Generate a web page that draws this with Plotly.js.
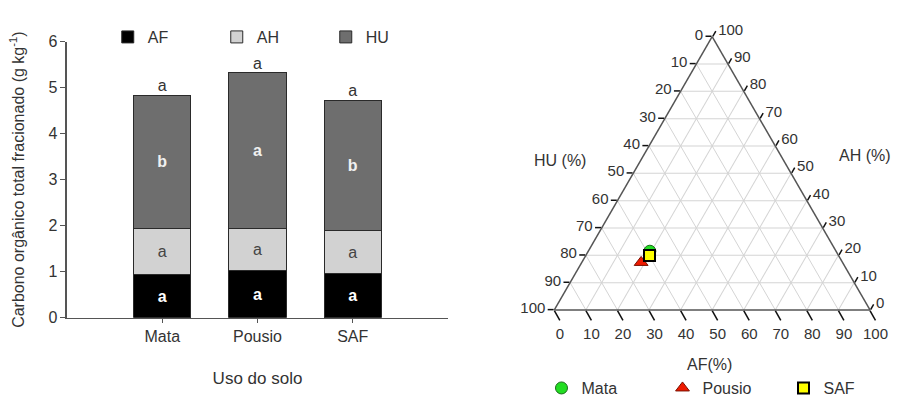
<!DOCTYPE html>
<html>
<head>
<meta charset="utf-8">
<script src="https://cdn.plot.ly/plotly-3.0.1.min.js"></script>
<style>html,body{margin:0;padding:0;background:#fff;}#chart{width:898px;height:398px;}</style>
</head>
<body>
<div id="chart"></div>
<script>
// ---- Bar chart data (g kg-1) ----
const categories = ['Mata', 'Pousio', 'SAF'];
const afValues = [0.93, 1.02, 0.965];
const ahValues = [1.01, 0.91, 0.92];
const huValues = [2.90, 3.40, 2.845];
const afLetters = ['a', 'a', 'a'];
const ahLetters = ['a', 'a', 'a'];
const huLetters = ['b', 'a', 'b'];
const totalLetters = ['a', 'a', 'a'];

// ---- Ternary data (%) ----
const ternNames = ['Mata', 'Pousio', 'SAF'];
const ternAF = [19.5, 18.8, 20.2];
const ternAH = [21.5, 17.4, 19.9];
const ternHU = [59.0, 63.8, 59.9];

// ---- Ternary tick labels ----
const ternTickVals = [0, 10, 20, 30, 40, 50, 60, 70, 80, 90, 100];
const ternTickText = ['100', '90', '80', '70', '60', '50', '40', '30', '20', '10', '0'];

const FONT = 'Liberation Sans, Arial, sans-serif';
const TXT = '#333333';

const totals = categories.map((c, i) => afValues[i] + ahValues[i] + huValues[i]);

const barLine = {color: '#2a2a2a', width: 1};
const traces = [
  {type: 'bar', name: 'AF', x: categories, y: afValues, width: 0.6,
   marker: {color: '#000000', line: barLine},
   text: afLetters, textposition: 'inside', insidetextanchor: 'middle',
   textfont: {family: FONT, size: 16, color: '#ffffff', weight: 'bold'}, legend: 'legend'},
  {type: 'bar', name: 'AH', x: categories, y: ahValues, width: 0.6,
   marker: {color: '#d2d2d2', line: barLine},
   text: ahLetters, textposition: 'inside', insidetextanchor: 'middle',
   textfont: {family: FONT, size: 16, color: '#444444'}, legend: 'legend'},
  {type: 'bar', name: 'HU', x: categories, y: huValues, width: 0.6,
   marker: {color: '#6e6e6e', line: barLine},
   text: huLetters, textposition: 'inside', insidetextanchor: 'middle',
   textfont: {family: FONT, size: 16, color: '#f0f0f0', weight: 'bold'}, legend: 'legend'},
  {type: 'scatter', mode: 'text', x: categories, y: totals, text: totalLetters,
   textposition: 'top center', textfont: {family: FONT, size: 16, color: TXT},
   showlegend: false, hoverinfo: 'skip'},
  {type: 'scatterternary', mode: 'markers', name: ternNames[0],
   a: [ternAH[0]], b: [ternHU[0]], c: [ternAF[0]],
   marker: {symbol: 'circle', size: 12, color: '#22dd22', line: {color: '#1a6a1a', width: 1}},
   legend: 'legend2'},
  {type: 'scatterternary', mode: 'markers', name: ternNames[1],
   a: [ternAH[1]], b: [ternHU[1]], c: [ternAF[1]],
   marker: {symbol: 'triangle-up', size: 12, color: '#ee1a00', line: {color: '#7a1000', width: 1}},
   legend: 'legend2'},
  {type: 'scatterternary', mode: 'markers', name: ternNames[2],
   a: [ternAH[2]], b: [ternHU[2]], c: [ternAF[2]],
   marker: {symbol: 'square', size: 11, color: '#ffff00', line: {color: '#000000', width: 2}},
   legend: 'legend2'}
];

function ternAxis(len) {
  return {
    min: 0,
    tickmode: 'array', tickvals: ternTickVals, ticktext: ternTickText,
    showgrid: true, gridcolor: '#d4d4d4', gridwidth: 1,
    showline: true, linecolor: '#555555', linewidth: 1.5,
    ticks: 'outside', ticklen: len, tickcolor: '#111111', tickwidth: 1.5,
    tickfont: {family: FONT, size: 15, color: TXT},
    title: {text: ''}
  };
}

const layout = {
  width: 898, height: 398,
  margin: {l: 0, r: 0, t: 0, b: 0, autoexpand: false},
  paper_bgcolor: '#ffffff', plot_bgcolor: '#ffffff',
  font: {family: FONT, color: TXT},
  barmode: 'stack',
  xaxis: {
    domain: [0.0746, 0.4989], range: [-1, 3],
    showline: true, linecolor: '#555555', linewidth: 1.5,
    ticks: 'outside', ticklen: 4, tickcolor: '#555555',
    tickfont: {family: FONT, size: 16, color: TXT},
    showgrid: false, zeroline: false,
    title: {text: 'Uso do solo', font: {family: FONT, size: 17, color: TXT}, standoff: 27},
    anchor: 'y', automargin: false
  },
  yaxis: {
    domain: [0.2018, 0.8952], range: [0, 6],
    tickvals: [0, 1, 2, 3, 4, 5, 6],
    showline: true, linecolor: '#555555', linewidth: 1.5,
    ticks: 'outside', ticklen: 5, tickcolor: '#555555',
    tickfont: {family: FONT, size: 16, color: TXT},
    showgrid: false, zeroline: false,
    title: {text: 'Carbono orgânico total fracionado (g kg<sup>-1</sup>)',
            font: {family: FONT, size: 16, color: TXT}, standoff: 20},
    anchor: 'x', automargin: false
  },
  ternary: {
    domain: {x: [0.6173, 0.9688], y: [0.2211, 0.908]},
    sum: 100,
    bgcolor: '#ffffff',
    aaxis: ternAxis(6), baxis: ternAxis(11), caxis: ternAxis(6)
  },
  legend: {
    orientation: 'h', x: 0.12, y: 0.907, xanchor: 'left', yanchor: 'middle',
    traceorder: 'normal', entrywidth: 64, entrywidthmode: 'pixels',
    font: {family: FONT, size: 16, color: TXT}, bgcolor: 'rgba(0,0,0,0)'
  },
  legend2: {
    orientation: 'h', x: 0.603, y: 0.025, xanchor: 'left', yanchor: 'middle',
    traceorder: 'normal', entrywidth: 76, entrywidthmode: 'pixels',
    font: {family: FONT, size: 16, color: TXT}, bgcolor: 'rgba(0,0,0,0)'
  },
  annotations: [
    {text: 'HU (%)', xref: 'paper', yref: 'paper', x: 560 / 898, y: (398 - 160) / 398,
     xanchor: 'center', yanchor: 'middle',
     showarrow: false, font: {family: FONT, size: 16, color: TXT}},
    {text: 'AH (%)', xref: 'paper', yref: 'paper', x: 865 / 898, y: (398 - 155) / 398,
     xanchor: 'center', yanchor: 'middle',
     showarrow: false, font: {family: FONT, size: 16, color: TXT}},
    {text: 'AF(%)', xref: 'paper', yref: 'paper', x: 709 / 898, y: (398 - 364) / 398,
     xanchor: 'center', yanchor: 'middle',
     showarrow: false, font: {family: FONT, size: 16, color: TXT}}
  ],
  showlegend: true
};

Plotly.newPlot('chart', traces, layout, {displayModeBar: false, staticPlot: true});
</script>
</body>
</html>
